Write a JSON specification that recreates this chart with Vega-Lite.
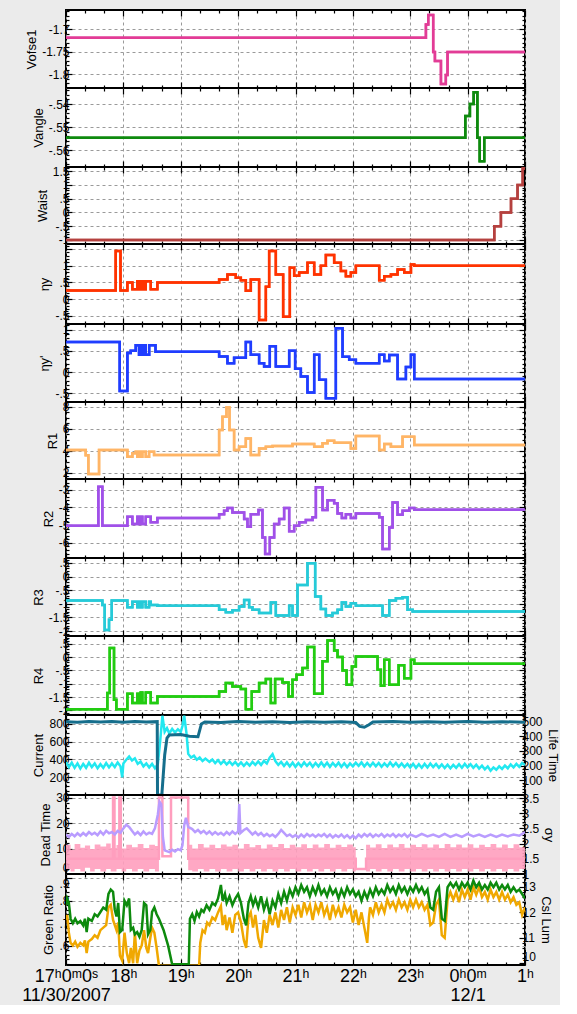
{
"$schema": "https://vega.github.io/schema/vega-lite/v6.json",
"background": "#EBEBEB",
"padding": {"left": 20, "top": 4, "right": 0, "bottom": 0},
"spacing": 0,
"bounds": "flush",
"config": {
 "view": {"stroke": "black", "strokeWidth": 2, "fill": "white"},
 "axis": {"domain": false, "tickColor": "black", "tickWidth": 1.2, "gridColor": "#9a9a9a", "gridDash": [3,3], "gridWidth": 1, "labelFont": "Liberation Sans", "labelFontSize": 12, "labelColor": "black", "titleFont": "Liberation Sans", "titleFontSize": 13, "titleFontWeight": "normal", "titleColor": "black", "labelOverlap": false, "labelFlush": false, "labelBound": false, "labelPadding": 3, "titlePadding": 3}
},
"datasets": {
 "p1": [{"t":17,"v":-1.7185},{"t":23.273,"v":-1.689},{"t":23.314,"v":-1.668},{"t":23.40,"v":-1.75},{"t":23.43,"v":-1.77},{"t":23.535,"v":-1.821},{"t":23.62,"v":-1.801},{"t":23.65,"v":-1.75},{"t":25,"v":-1.75}],
 "p2": [{"t":17,"v":-0.5547},{"t":23.96,"v":-0.5452},{"t":24.04,"v":-0.54},{"t":24.105,"v":-0.5349},{"t":24.17,"v":-0.5547},{"t":24.21,"v":-0.5649},{"t":24.29,"v":-0.5547},{"t":25,"v":-0.5547}],
 "p3": [{"t":17,"v":-1},{"t":24.465,"v":-0.5},{"t":24.58,"v":0},{"t":24.756,"v":0.5},{"t":24.87,"v":1},{"t":24.96,"v":1.6},{"t":25,"v":1.6}],
 "p4": [{"t":17,"v":0.26},{"t":17.866,"v":1.44},{"t":17.95,"v":0.26},{"t":18.07,"v":0.5},{"t":18.157,"v":0.3},{"t":18.244,"v":0.54},{"t":18.27,"v":0.3},{"t":18.29,"v":0.54},{"t":18.31,"v":0.3},{"t":18.33,"v":0.54},{"t":18.36,"v":0.3},{"t":18.39,"v":0.54},{"t":18.477,"v":0.3},{"t":18.593,"v":0.5},{"t":19.669,"v":0.59},{"t":19.814,"v":0.74},{"t":19.959,"v":0.64},{"t":20.047,"v":0.57},{"t":20.134,"v":0.25},{"t":20.221,"v":0.59},{"t":20.366,"v":-0.62},{"t":20.483,"v":0.37},{"t":20.541,"v":1.44},{"t":20.657,"v":0.74},{"t":20.785,"v":-0.52},{"t":20.901,"v":0.94},{"t":20.977,"v":0.7},{"t":21.064,"v":0.8},{"t":21.209,"v":1.09},{"t":21.326,"v":0.74},{"t":21.442,"v":1.0},{"t":21.529,"v":1.32},{"t":21.674,"v":1.09},{"t":21.791,"v":0.84},{"t":21.878,"v":0.69},{"t":21.965,"v":0.8},{"t":22.052,"v":1.0},{"t":22.459,"v":0.57},{"t":22.547,"v":0.69},{"t":22.663,"v":0.74},{"t":22.779,"v":0.89},{"t":22.895,"v":0.8},{"t":23.012,"v":1.04},{"t":23.07,"v":1.0},{"t":25,"v":1.0}],
 "p5": [{"t":17,"v":0.71},{"t":17.936,"v":-0.44},{"t":18.07,"v":0.45},{"t":18.128,"v":0.5},{"t":18.215,"v":0.63},{"t":18.273,"v":0.41},{"t":18.30,"v":0.63},{"t":18.33,"v":0.41},{"t":18.36,"v":0.63},{"t":18.39,"v":0.41},{"t":18.45,"v":0.63},{"t":18.56,"v":0.48},{"t":19.669,"v":0.37},{"t":19.814,"v":0.21},{"t":19.93,"v":0.34},{"t":20.134,"v":0.71},{"t":20.221,"v":0.41},{"t":20.366,"v":0.21},{"t":20.453,"v":0.13},{"t":20.552,"v":0.61},{"t":20.657,"v":0.13},{"t":20.89,"v":0.5},{"t":20.994,"v":0.08},{"t":21.093,"v":-0.1},{"t":21.209,"v":-0.48},{"t":21.326,"v":0.41},{"t":21.413,"v":-0.18},{"t":21.529,"v":-0.61},{"t":21.703,"v":1.03},{"t":21.82,"v":0.36},{"t":21.936,"v":0.29},{"t":22.052,"v":0.21},{"t":22.459,"v":0.41},{"t":22.547,"v":0.26},{"t":22.634,"v":0.4},{"t":22.779,"v":-0.16},{"t":22.924,"v":0.12},{"t":23.012,"v":0.41},{"t":23.07,"v":-0.16},{"t":25,"v":-0.16}],
 "p6": [{"t":17,"v":4.06},{"t":17.343,"v":3.6},{"t":17.39,"v":1.88},{"t":17.576,"v":4.06},{"t":18.07,"v":3.45},{"t":18.157,"v":3.76},{"t":18.215,"v":3.91},{"t":18.244,"v":3.45},{"t":18.273,"v":3.91},{"t":18.302,"v":3.45},{"t":18.331,"v":3.91},{"t":18.39,"v":3.45},{"t":18.448,"v":3.91},{"t":18.535,"v":3.61},{"t":19.669,"v":5.88},{"t":19.727,"v":7.09},{"t":19.797,"v":7.94},{"t":19.85,"v":5.88},{"t":19.93,"v":4.06},{"t":20.017,"v":4.36},{"t":20.134,"v":5.12},{"t":20.221,"v":3.61},{"t":20.366,"v":4.21},{"t":20.483,"v":4.36},{"t":20.599,"v":4.42},{"t":20.948,"v":4.61},{"t":21.326,"v":4.36},{"t":21.471,"v":4.67},{"t":21.558,"v":4.91},{"t":21.674,"v":4.73},{"t":21.965,"v":4.21},{"t":22.052,"v":5.33},{"t":22.459,"v":4.06},{"t":22.547,"v":4.61},{"t":22.663,"v":4.36},{"t":22.866,"v":5.27},{"t":23.07,"v":4.52},{"t":25,"v":4.52}],
 "p7": [{"t":17,"v":-5.03},{"t":17.564,"v":-2.84},{"t":17.634,"v":-5.03},{"t":18.07,"v":-4.53},{"t":18.157,"v":-4.94},{"t":18.244,"v":-4.53},{"t":18.273,"v":-4.94},{"t":18.302,"v":-4.53},{"t":18.331,"v":-4.94},{"t":18.39,"v":-4.53},{"t":18.477,"v":-4.84},{"t":18.593,"v":-4.6},{"t":19.669,"v":-4.38},{"t":19.756,"v":-4.19},{"t":19.814,"v":-4.04},{"t":19.901,"v":-4.28},{"t":20.105,"v":-4.66},{"t":20.163,"v":-5.09},{"t":20.221,"v":-4.38},{"t":20.355,"v":-4.15},{"t":20.424,"v":-5.69},{"t":20.471,"v":-6.63},{"t":20.552,"v":-5.69},{"t":20.628,"v":-4.94},{"t":20.715,"v":-4.66},{"t":20.802,"v":-4.04},{"t":20.89,"v":-5.35},{"t":20.977,"v":-5.03},{"t":21.064,"v":-4.84},{"t":21.18,"v":-4.71},{"t":21.297,"v":-4.56},{"t":21.355,"v":-2.87},{"t":21.471,"v":-4.15},{"t":21.558,"v":-3.59},{"t":21.674,"v":-3.77},{"t":21.733,"v":-4.34},{"t":21.808,"v":-4.6},{"t":21.878,"v":-4.38},{"t":21.965,"v":-4.6},{"t":22.052,"v":-4.34},{"t":22.459,"v":-4.56},{"t":22.517,"v":-6.35},{"t":22.634,"v":-5.13},{"t":22.692,"v":-3.72},{"t":22.779,"v":-4.41},{"t":22.866,"v":-4.19},{"t":22.983,"v":-4.04},{"t":23.07,"v":-4.13},{"t":25,"v":-4.13}],
 "p8": [{"t":17,"v":-0.88},{"t":17.634,"v":-1.04},{"t":17.674,"v":-1.96},{"t":17.75,"v":-1.58},{"t":17.797,"v":-0.88},{"t":18.07,"v":-1.13},{"t":18.157,"v":-0.92},{"t":18.244,"v":-1.13},{"t":18.273,"v":-0.92},{"t":18.302,"v":-1.13},{"t":18.331,"v":-0.92},{"t":18.39,"v":-1.13},{"t":18.448,"v":-0.92},{"t":18.477,"v":-1.04},{"t":18.593,"v":-1.07},{"t":19.669,"v":-1.22},{"t":19.785,"v":-1.31},{"t":19.901,"v":-1.24},{"t":20.017,"v":-1.1},{"t":20.105,"v":-0.86},{"t":20.192,"v":-1.13},{"t":20.25,"v":-1.22},{"t":20.366,"v":-1.34},{"t":20.57,"v":-0.95},{"t":20.657,"v":-1.43},{"t":20.89,"v":-1.07},{"t":20.948,"v":-1.43},{"t":21.035,"v":-0.31},{"t":21.209,"v":0.49},{"t":21.343,"v":-0.73},{"t":21.442,"v":-1.19},{"t":21.529,"v":-1.43},{"t":21.645,"v":-1.34},{"t":21.733,"v":-1.22},{"t":21.808,"v":-0.95},{"t":21.878,"v":-1.1},{"t":21.965,"v":-0.98},{"t":22.052,"v":-1.07},{"t":22.517,"v":-1.43},{"t":22.634,"v":-0.88},{"t":22.75,"v":-0.8},{"t":22.866,"v":-0.76},{"t":22.953,"v":-1.22},{"t":23.041,"v":-1.28},{"t":25,"v":-1.28}],
 "p9": [{"t":17,"v":-1.95},{"t":17.721,"v":-1.35},{"t":17.762,"v":0.34},{"t":17.837,"v":-1.6},{"t":17.878,"v":-1.95},{"t":18.07,"v":-1.375},{"t":18.157,"v":-1.725},{"t":18.244,"v":-1.375},{"t":18.273,"v":-1.725},{"t":18.302,"v":-1.325},{"t":18.331,"v":-1.725},{"t":18.39,"v":-1.325},{"t":18.477,"v":-1.725},{"t":18.593,"v":-1.475},{"t":19.669,"v":-1.29},{"t":19.785,"v":-0.975},{"t":19.901,"v":-1.1},{"t":20.047,"v":-1.2},{"t":20.134,"v":-1.95},{"t":20.238,"v":-1.29},{"t":20.366,"v":-0.975},{"t":20.483,"v":-0.825},{"t":20.57,"v":-1.725},{"t":20.645,"v":-0.825},{"t":20.773,"v":-0.95},{"t":20.878,"v":-1.475},{"t":20.948,"v":-0.85},{"t":21.017,"v":-0.66},{"t":21.122,"v":-0.41},{"t":21.209,"v":0.375},{"t":21.326,"v":-1.375},{"t":21.471,"v":-0.16},{"t":21.558,"v":0.625},{"t":21.674,"v":0.25},{"t":21.733,"v":0},{"t":21.82,"v":-0.5},{"t":21.89,"v":-1.04},{"t":21.983,"v":-0.35},{"t":22.052,"v":0.025},{"t":22.43,"v":-0.475},{"t":22.488,"v":-1.075},{"t":22.547,"v":-0.1},{"t":22.634,"v":-1.04},{"t":22.797,"v":-0.31},{"t":22.895,"v":-0.79},{"t":23.012,"v":-0.1},{"t":23.07,"v":-0.25},{"t":25,"v":-0.25}],
 "p10a": [{"t":17,"v":825},{"t":17.2,"v":818},{"t":17.4,"v":828},{"t":17.6,"v":820},{"t":17.8,"v":827},{"t":18.0,"v":819},{"t":18.2,"v":826},{"t":18.4,"v":820},{"t":18.59,"v":825},{"t":18.595,"v":0},{"t":18.67,"v":0},{"t":18.72,"v":450},{"t":18.76,"v":640},{"t":18.8,"v":675},{"t":19.0,"v":680},{"t":19.15,"v":662},{"t":19.3,"v":655},{"t":19.36,"v":800},{"t":19.42,"v":822},{"t":19.7,"v":816},{"t":20.0,"v":826},{"t":20.3,"v":818},{"t":20.6,"v":825},{"t":20.9,"v":817},{"t":21.2,"v":825},{"t":21.5,"v":819},{"t":21.8,"v":824},{"t":22.05,"v":815},{"t":22.12,"v":772},{"t":22.2,"v":762},{"t":22.28,"v":790},{"t":22.35,"v":822},{"t":22.7,"v":826},{"t":23.0,"v":818},{"t":23.3,"v":825},{"t":23.6,"v":819},{"t":24.0,"v":826},{"t":24.3,"v":818},{"t":24.6,"v":825},{"t":25,"v":818}],
 "p10b": [{"t":17.0,"v":225},{"t":17.05,"v":190},{"t":17.1,"v":220},{"t":17.15,"v":185},{"t":17.2,"v":215},{"t":17.25,"v":180},{"t":17.3,"v":212},{"t":17.35,"v":185},{"t":17.4,"v":220},{"t":17.45,"v":190},{"t":17.5,"v":215},{"t":17.55,"v":182},{"t":17.6,"v":210},{"t":17.65,"v":185},{"t":17.7,"v":218},{"t":17.75,"v":188},{"t":17.8,"v":215},{"t":17.85,"v":190},{"t":17.9,"v":222},{"t":17.95,"v":195},{"t":17.98,"v":120},{"t":18.0,"v":215},{"t":18.05,"v":240},{"t":18.1,"v":262},{"t":18.15,"v":235},{"t":18.2,"v":250},{"t":18.25,"v":212},{"t":18.3,"v":228},{"t":18.35,"v":195},{"t":18.4,"v":215},{"t":18.45,"v":188},{"t":18.5,"v":212},{"t":18.55,"v":182},{"t":18.6,"v":210},{"t":18.64,"v":360},{"t":18.68,"v":540},{"t":18.72,"v":430},{"t":18.76,"v":455},{"t":18.8,"v":420},{"t":18.85,"v":450},{"t":18.9,"v":425},{"t":18.95,"v":448},{"t":19.0,"v":430},{"t":19.03,"v":470},{"t":19.06,"v":540},{"t":19.1,"v":420},{"t":19.13,"v":280},{"t":19.18,"v":255},{"t":19.23,"v":268},{"t":19.28,"v":240},{"t":19.33,"v":255},{"t":19.38,"v":232},{"t":19.43,"v":248},{"t":19.5,"v":225},{"t":19.55,"v":242},{"t":19.6,"v":218},{"t":19.65,"v":238},{"t":19.7,"v":212},{"t":19.75,"v":232},{"t":19.8,"v":208},{"t":19.85,"v":228},{"t":19.9,"v":205},{"t":19.95,"v":225},{"t":20.0,"v":200},{"t":20.05,"v":222},{"t":20.1,"v":198},{"t":20.15,"v":220},{"t":20.2,"v":200},{"t":20.25,"v":225},{"t":20.3,"v":205},{"t":20.35,"v":228},{"t":20.4,"v":205},{"t":20.45,"v":232},{"t":20.5,"v":215},{"t":20.55,"v":255},{"t":20.6,"v":278},{"t":20.65,"v":230},{"t":20.7,"v":205},{"t":20.75,"v":225},{"t":20.8,"v":198},{"t":20.85,"v":222},{"t":20.9,"v":195},{"t":20.95,"v":220},{"t":21.0,"v":192},{"t":21.05,"v":218},{"t":21.1,"v":195},{"t":21.15,"v":222},{"t":21.2,"v":198},{"t":21.25,"v":220},{"t":21.3,"v":192},{"t":21.35,"v":218},{"t":21.4,"v":195},{"t":21.45,"v":222},{"t":21.5,"v":195},{"t":21.55,"v":220},{"t":21.6,"v":192},{"t":21.65,"v":218},{"t":21.7,"v":195},{"t":21.75,"v":220},{"t":21.8,"v":192},{"t":21.85,"v":216},{"t":21.9,"v":190},{"t":21.95,"v":215},{"t":22.0,"v":195},{"t":22.05,"v":220},{"t":22.1,"v":198},{"t":22.15,"v":222},{"t":22.2,"v":195},{"t":22.25,"v":218},{"t":22.3,"v":196},{"t":22.35,"v":220},{"t":22.4,"v":195},{"t":22.45,"v":218},{"t":22.5,"v":192},{"t":22.55,"v":215},{"t":22.6,"v":195},{"t":22.65,"v":222},{"t":22.7,"v":196},{"t":22.75,"v":218},{"t":22.8,"v":192},{"t":22.85,"v":215},{"t":22.9,"v":190},{"t":22.95,"v":212},{"t":23.0,"v":188},{"t":23.05,"v":212},{"t":23.1,"v":185},{"t":23.15,"v":210},{"t":23.2,"v":186},{"t":23.25,"v":212},{"t":23.3,"v":188},{"t":23.35,"v":214},{"t":23.4,"v":190},{"t":23.45,"v":212},{"t":23.5,"v":186},{"t":23.55,"v":208},{"t":23.6,"v":184},{"t":23.65,"v":206},{"t":23.7,"v":182},{"t":23.75,"v":205},{"t":23.8,"v":185},{"t":23.85,"v":210},{"t":23.9,"v":186},{"t":23.95,"v":212},{"t":24.0,"v":188},{"t":24.05,"v":210},{"t":24.1,"v":185},{"t":24.15,"v":206},{"t":24.2,"v":180},{"t":24.25,"v":200},{"t":24.3,"v":175},{"t":24.35,"v":195},{"t":24.4,"v":165},{"t":24.45,"v":188},{"t":24.5,"v":172},{"t":24.55,"v":195},{"t":24.6,"v":178},{"t":24.65,"v":200},{"t":24.7,"v":182},{"t":24.75,"v":208},{"t":24.8,"v":188},{"t":24.85,"v":212},{"t":24.9,"v":192},{"t":24.95,"v":218},{"t":25.0,"v":205}],
 "p11band": [{"t":17.0,"lo":2,"hi":11.5},{"t":17.08,"lo":1,"hi":9.5},{"t":17.15,"lo":2,"hi":11.8},{"t":17.25,"lo":1,"hi":10.3},{"t":17.33,"lo":2.5,"hi":11.2},{"t":17.42,"lo":1,"hi":9.8},{"t":17.5,"lo":2,"hi":11.6},{"t":17.6,"lo":1,"hi":10.8},{"t":17.7,"lo":2,"hi":12},{"t":17.78,"lo":1,"hi":10.2},{"t":17.88,"lo":2,"hi":11.4},{"t":17.97,"lo":1,"hi":10},{"t":18.05,"lo":2,"hi":11.5},{"t":18.15,"lo":1,"hi":10.5},{"t":18.25,"lo":2,"hi":11.8},{"t":18.35,"lo":1,"hi":10.2},{"t":18.45,"lo":2,"hi":11.5},{"t":18.55,"lo":1,"hi":11},{"t":18.62,"lo":7,"hi":7},{"t":19.13,"lo":1.5,"hi":11.5},{"t":19.2,"lo":1,"hi":10},{"t":19.3,"lo":2,"hi":11.8},{"t":19.4,"lo":1,"hi":10.4},{"t":19.5,"lo":2,"hi":11.5},{"t":19.6,"lo":1,"hi":10.2},{"t":19.7,"lo":2,"hi":11.6},{"t":19.8,"lo":1,"hi":10.8},{"t":19.9,"lo":2,"hi":11.5},{"t":20.0,"lo":1,"hi":10},{"t":20.1,"lo":2,"hi":11.8},{"t":20.2,"lo":1,"hi":10.5},{"t":20.3,"lo":2,"hi":11.4},{"t":20.4,"lo":1,"hi":10},{"t":20.5,"lo":2,"hi":11.6},{"t":20.6,"lo":1,"hi":10.6},{"t":20.7,"lo":2,"hi":11.8},{"t":20.8,"lo":1,"hi":10.2},{"t":20.9,"lo":2,"hi":11.5},{"t":21.0,"lo":1,"hi":10.5},{"t":21.1,"lo":2,"hi":11.7},{"t":21.2,"lo":1,"hi":10.2},{"t":21.3,"lo":2,"hi":11.6},{"t":21.4,"lo":1,"hi":10.4},{"t":21.5,"lo":2,"hi":11.8},{"t":21.6,"lo":1,"hi":10.3},{"t":21.7,"lo":2,"hi":11.5},{"t":21.8,"lo":1,"hi":10.6},{"t":21.9,"lo":2,"hi":11.6},{"t":22.0,"lo":1,"hi":10.5},{"t":22.05,"lo":2,"hi":2},{"t":22.23,"lo":1,"hi":11.5},{"t":22.3,"lo":2,"hi":10.4},{"t":22.4,"lo":1,"hi":11.7},{"t":22.5,"lo":2,"hi":10.2},{"t":22.6,"lo":1,"hi":11.6},{"t":22.7,"lo":2,"hi":10.5},{"t":22.8,"lo":1,"hi":11.8},{"t":22.9,"lo":2,"hi":10.3},{"t":23.0,"lo":1,"hi":11.5},{"t":23.1,"lo":2,"hi":10.6},{"t":23.2,"lo":1,"hi":11.7},{"t":23.3,"lo":2,"hi":10.4},{"t":23.4,"lo":1,"hi":11.6},{"t":23.5,"lo":2,"hi":10.2},{"t":23.6,"lo":1,"hi":11.8},{"t":23.7,"lo":2,"hi":10.5},{"t":23.8,"lo":1,"hi":11.6},{"t":23.9,"lo":2,"hi":10.4},{"t":24.0,"lo":1,"hi":11.7},{"t":24.1,"lo":2,"hi":10.3},{"t":24.2,"lo":1,"hi":11.5},{"t":24.3,"lo":2,"hi":10.6},{"t":24.4,"lo":1,"hi":11.8},{"t":24.5,"lo":2,"hi":10.4},{"t":24.6,"lo":1,"hi":11.6},{"t":24.7,"lo":2,"hi":10.2},{"t":24.8,"lo":1,"hi":11.7},{"t":24.9,"lo":2,"hi":10.5},{"t":25.0,"lo":2,"hi":10.5}],
 "p11line": [{"t":17.0,"v":6},{"t":17.82,"v":30},{"t":17.845,"v":6},{"t":17.93,"v":30},{"t":17.955,"v":6},{"t":18.62,"v":30},{"t":18.68,"v":7},{"t":18.83,"v":30},{"t":19.13,"v":6},{"t":22.05,"v":2},{"t":22.23,"v":6},{"t":25,"v":6}],
 "p11b": [{"t":17.0,"v":2.3},{"t":17.05,"v":2.22},{"t":17.1,"v":2.32},{"t":17.15,"v":2.24},{"t":17.2,"v":2.34},{"t":17.25,"v":2.26},{"t":17.3,"v":2.35},{"t":17.35,"v":2.27},{"t":17.4,"v":2.38},{"t":17.45,"v":2.3},{"t":17.5,"v":2.36},{"t":17.55,"v":2.28},{"t":17.6,"v":2.4},{"t":17.65,"v":2.3},{"t":17.7,"v":2.42},{"t":17.75,"v":2.34},{"t":17.8,"v":2.38},{"t":17.85,"v":2.3},{"t":17.9,"v":2.42},{"t":17.95,"v":2.36},{"t":18.0,"v":2.5},{"t":18.05,"v":2.62},{"t":18.1,"v":2.55},{"t":18.15,"v":2.42},{"t":18.2,"v":2.3},{"t":18.25,"v":2.38},{"t":18.3,"v":2.28},{"t":18.35,"v":2.4},{"t":18.4,"v":2.3},{"t":18.45,"v":2.36},{"t":18.5,"v":2.32},{"t":18.55,"v":2.5},{"t":18.6,"v":2.95},{"t":18.63,"v":3.38},{"t":18.66,"v":3.3},{"t":18.69,"v":2.2},{"t":18.72,"v":1.78},{"t":18.8,"v":1.72},{"t":18.85,"v":1.8},{"t":18.9,"v":1.74},{"t":18.95,"v":1.82},{"t":19.0,"v":1.78},{"t":19.03,"v":1.95},{"t":19.06,"v":2.6},{"t":19.09,"v":2.85},{"t":19.13,"v":2.55},{"t":19.2,"v":2.48},{"t":19.25,"v":2.38},{"t":19.3,"v":2.45},{"t":19.35,"v":2.35},{"t":19.4,"v":2.42},{"t":19.45,"v":2.32},{"t":19.5,"v":2.4},{"t":19.55,"v":2.3},{"t":19.6,"v":2.38},{"t":19.65,"v":2.3},{"t":19.7,"v":2.36},{"t":19.75,"v":2.28},{"t":19.8,"v":2.38},{"t":19.85,"v":2.3},{"t":19.9,"v":2.4},{"t":19.95,"v":2.32},{"t":20.0,"v":2.4},{"t":20.02,"v":3.3},{"t":20.04,"v":2.35},{"t":20.1,"v":2.45},{"t":20.15,"v":2.5},{"t":20.2,"v":2.4},{"t":20.25,"v":2.3},{"t":20.3,"v":2.38},{"t":20.35,"v":2.28},{"t":20.4,"v":2.35},{"t":20.45,"v":2.25},{"t":20.5,"v":2.32},{"t":20.55,"v":2.24},{"t":20.6,"v":2.3},{"t":20.65,"v":2.22},{"t":20.7,"v":2.32},{"t":20.75,"v":2.45},{"t":20.8,"v":2.35},{"t":20.85,"v":2.25},{"t":20.9,"v":2.3},{"t":20.95,"v":2.22},{"t":21.0,"v":2.28},{"t":21.05,"v":2.2},{"t":21.1,"v":2.3},{"t":21.15,"v":2.22},{"t":21.2,"v":2.32},{"t":21.25,"v":2.24},{"t":21.3,"v":2.3},{"t":21.35,"v":2.22},{"t":21.4,"v":2.3},{"t":21.45,"v":2.24},{"t":21.5,"v":2.32},{"t":21.55,"v":2.22},{"t":21.6,"v":2.3},{"t":21.65,"v":2.2},{"t":21.7,"v":2.28},{"t":21.75,"v":2.22},{"t":21.8,"v":2.3},{"t":21.85,"v":2.2},{"t":21.9,"v":2.28},{"t":21.95,"v":2.18},{"t":22.0,"v":2.26},{"t":22.05,"v":2.18},{"t":22.1,"v":2.3},{"t":22.15,"v":2.22},{"t":22.2,"v":2.32},{"t":22.25,"v":2.24},{"t":22.3,"v":2.32},{"t":22.35,"v":2.22},{"t":22.4,"v":2.3},{"t":22.45,"v":2.24},{"t":22.5,"v":2.32},{"t":22.55,"v":2.22},{"t":22.6,"v":2.3},{"t":22.65,"v":2.24},{"t":22.7,"v":2.32},{"t":22.75,"v":2.22},{"t":22.8,"v":2.3},{"t":22.85,"v":2.24},{"t":22.9,"v":2.32},{"t":22.95,"v":2.22},{"t":23.0,"v":2.3},{"t":23.1,"v":2.22},{"t":23.2,"v":2.32},{"t":23.3,"v":2.24},{"t":23.4,"v":2.3},{"t":23.5,"v":2.22},{"t":23.6,"v":2.32},{"t":23.7,"v":2.22},{"t":23.8,"v":2.3},{"t":23.9,"v":2.22},{"t":24.0,"v":2.32},{"t":24.1,"v":2.24},{"t":24.2,"v":2.3},{"t":24.3,"v":2.22},{"t":24.4,"v":2.3},{"t":24.5,"v":2.22},{"t":24.6,"v":2.3},{"t":24.7,"v":2.24},{"t":24.8,"v":2.3},{"t":24.9,"v":2.26},{"t":25.0,"v":2.38}],
 "p12a": [{"t":17.0,"v":0.78},{"t":17.02,"v":0.81},{"t":17.05,"v":0.79},{"t":17.08,"v":0.72},{"t":17.12,"v":0.7},{"t":17.16,"v":0.72},{"t":17.2,"v":0.7},{"t":17.25,"v":0.71},{"t":17.3,"v":0.69},{"t":17.33,"v":0.72},{"t":17.36,"v":0.66},{"t":17.39,"v":0.72},{"t":17.45,"v":0.71},{"t":17.5,"v":0.74},{"t":17.55,"v":0.73},{"t":17.6,"v":0.75},{"t":17.65,"v":0.77},{"t":17.7,"v":0.76},{"t":17.74,"v":0.83},{"t":17.78,"v":0.85},{"t":17.82,"v":0.84},{"t":17.85,"v":0.76},{"t":17.88,"v":0.73},{"t":17.91,"v":0.79},{"t":17.94,"v":0.66},{"t":17.98,"v":0.67},{"t":18.02,"v":0.8},{"t":18.06,"v":0.78},{"t":18.1,"v":0.81},{"t":18.13,"v":0.67},{"t":18.17,"v":0.68},{"t":18.2,"v":0.65},{"t":18.24,"v":0.66},{"t":18.28,"v":0.64},{"t":18.32,"v":0.67},{"t":18.36,"v":0.79},{"t":18.4,"v":0.78},{"t":18.43,"v":0.65},{"t":18.47,"v":0.67},{"t":18.5,"v":0.75},{"t":18.54,"v":0.77},{"t":18.58,"v":0.74},{"t":18.62,"v":0.72},{"t":18.7,"v":0.67},{"t":18.78,"v":0.6},{"t":18.85,"v":0.517},{"t":19.14,"v":0.517},{"t":19.16,"v":0.72},{"t":19.2,"v":0.74},{"t":19.24,"v":0.71},{"t":19.28,"v":0.75},{"t":19.32,"v":0.73},{"t":19.36,"v":0.76},{"t":19.4,"v":0.75},{"t":19.45,"v":0.78},{"t":19.5,"v":0.76},{"t":19.55,"v":0.79},{"t":19.6,"v":0.78},{"t":19.65,"v":0.81},{"t":19.7,"v":0.87},{"t":19.73,"v":0.8},{"t":19.77,"v":0.83},{"t":19.8,"v":0.79},{"t":19.85,"v":0.82},{"t":19.9,"v":0.78},{"t":19.95,"v":0.81},{"t":20.0,"v":0.83},{"t":20.05,"v":0.79},{"t":20.1,"v":0.72},{"t":20.14,"v":0.69},{"t":20.18,"v":0.79},{"t":20.22,"v":0.82},{"t":20.26,"v":0.78},{"t":20.3,"v":0.81},{"t":20.35,"v":0.77},{"t":20.4,"v":0.82},{"t":20.45,"v":0.76},{"t":20.5,"v":0.8},{"t":20.55,"v":0.74},{"t":20.6,"v":0.8},{"t":20.65,"v":0.77},{"t":20.7,"v":0.83},{"t":20.75,"v":0.79},{"t":20.8,"v":0.84},{"t":20.85,"v":0.8},{"t":20.9,"v":0.85},{"t":20.95,"v":0.82},{"t":21.0,"v":0.86},{"t":21.05,"v":0.83},{"t":21.1,"v":0.87},{"t":21.15,"v":0.84},{"t":21.2,"v":0.86},{"t":21.25,"v":0.82},{"t":21.3,"v":0.86},{"t":21.35,"v":0.83},{"t":21.4,"v":0.87},{"t":21.45,"v":0.83},{"t":21.5,"v":0.85},{"t":21.55,"v":0.82},{"t":21.6,"v":0.86},{"t":21.65,"v":0.83},{"t":21.7,"v":0.85},{"t":21.75,"v":0.81},{"t":21.8,"v":0.85},{"t":21.85,"v":0.82},{"t":21.9,"v":0.86},{"t":21.95,"v":0.83},{"t":22.0,"v":0.85},{"t":22.05,"v":0.82},{"t":22.1,"v":0.84},{"t":22.15,"v":0.8},{"t":22.2,"v":0.84},{"t":22.25,"v":0.81},{"t":22.3,"v":0.85},{"t":22.35,"v":0.82},{"t":22.4,"v":0.86},{"t":22.45,"v":0.83},{"t":22.5,"v":0.85},{"t":22.55,"v":0.83},{"t":22.6,"v":0.87},{"t":22.65,"v":0.84},{"t":22.7,"v":0.86},{"t":22.75,"v":0.83},{"t":22.8,"v":0.87},{"t":22.85,"v":0.84},{"t":22.9,"v":0.86},{"t":22.95,"v":0.83},{"t":23.0,"v":0.86},{"t":23.05,"v":0.84},{"t":23.1,"v":0.87},{"t":23.15,"v":0.84},{"t":23.2,"v":0.86},{"t":23.25,"v":0.83},{"t":23.3,"v":0.85},{"t":23.35,"v":0.77},{"t":23.4,"v":0.76},{"t":23.45,"v":0.84},{"t":23.5,"v":0.86},{"t":23.55,"v":0.72},{"t":23.6,"v":0.71},{"t":23.65,"v":0.86},{"t":23.7,"v":0.88},{"t":23.75,"v":0.86},{"t":23.8,"v":0.88},{"t":23.85,"v":0.85},{"t":23.9,"v":0.88},{"t":23.95,"v":0.86},{"t":24.0,"v":0.88},{"t":24.05,"v":0.85},{"t":24.1,"v":0.89},{"t":24.15,"v":0.86},{"t":24.2,"v":0.88},{"t":24.25,"v":0.85},{"t":24.3,"v":0.87},{"t":24.35,"v":0.85},{"t":24.4,"v":0.88},{"t":24.45,"v":0.86},{"t":24.5,"v":0.88},{"t":24.55,"v":0.85},{"t":24.6,"v":0.87},{"t":24.65,"v":0.85},{"t":24.7,"v":0.87},{"t":24.75,"v":0.84},{"t":24.8,"v":0.86},{"t":24.85,"v":0.84},{"t":24.9,"v":0.85},{"t":24.95,"v":0.83},{"t":25.0,"v":0.81}],
 "p12b": [{"t":17.0,"v":11.7},{"t":17.02,"v":11.9},{"t":17.05,"v":11.2},{"t":17.08,"v":10.8},{"t":17.12,"v":10.7},{"t":17.16,"v":10.85},{"t":17.2,"v":10.65},{"t":17.25,"v":10.8},{"t":17.3,"v":10.7},{"t":17.33,"v":10.9},{"t":17.36,"v":10.4},{"t":17.39,"v":10.85},{"t":17.45,"v":10.95},{"t":17.5,"v":11.1},{"t":17.55,"v":11.0},{"t":17.6,"v":11.3},{"t":17.65,"v":11.4},{"t":17.7,"v":11.5},{"t":17.74,"v":12.2},{"t":17.78,"v":12.3},{"t":17.82,"v":11.7},{"t":17.85,"v":11.5},{"t":17.88,"v":11.3},{"t":17.91,"v":11.6},{"t":17.94,"v":10.3},{"t":17.98,"v":10.1},{"t":18.02,"v":11.2},{"t":18.06,"v":10.4},{"t":18.1,"v":10.0},{"t":18.13,"v":10.6},{"t":18.17,"v":10.0},{"t":18.2,"v":11.2},{"t":18.24,"v":10.0},{"t":18.28,"v":10.5},{"t":18.32,"v":10.7},{"t":18.36,"v":11.3},{"t":18.4,"v":10.6},{"t":18.43,"v":10.4},{"t":18.47,"v":11.0},{"t":18.5,"v":11.4},{"t":18.54,"v":11.2},{"t":18.58,"v":10.6},{"t":18.62,"v":9.9},{"t":19.32,"v":9.9},{"t":19.34,"v":10.8},{"t":19.38,"v":11.3},{"t":19.42,"v":11.2},{"t":19.46,"v":11.6},{"t":19.5,"v":11.5},{"t":19.55,"v":11.8},{"t":19.6,"v":11.7},{"t":19.65,"v":12.0},{"t":19.7,"v":12.25},{"t":19.73,"v":11.5},{"t":19.77,"v":11.9},{"t":19.8,"v":11.3},{"t":19.85,"v":11.8},{"t":19.9,"v":11.2},{"t":19.95,"v":11.9},{"t":20.0,"v":12.0},{"t":20.05,"v":11.6},{"t":20.1,"v":10.9},{"t":20.14,"v":10.6},{"t":20.18,"v":11.8},{"t":20.22,"v":12.0},{"t":20.26,"v":11.4},{"t":20.3,"v":11.9},{"t":20.35,"v":11.0},{"t":20.4,"v":10.6},{"t":20.45,"v":11.7},{"t":20.5,"v":11.2},{"t":20.55,"v":11.9},{"t":20.6,"v":11.5},{"t":20.65,"v":12.0},{"t":20.7,"v":11.4},{"t":20.75,"v":12.1},{"t":20.8,"v":11.7},{"t":20.85,"v":12.2},{"t":20.9,"v":11.6},{"t":20.95,"v":12.2},{"t":21.0,"v":11.9},{"t":21.05,"v":12.3},{"t":21.1,"v":11.8},{"t":21.15,"v":12.4},{"t":21.2,"v":12.0},{"t":21.25,"v":12.3},{"t":21.3,"v":11.7},{"t":21.35,"v":12.3},{"t":21.4,"v":12.0},{"t":21.45,"v":12.4},{"t":21.5,"v":11.9},{"t":21.55,"v":12.2},{"t":21.6,"v":11.7},{"t":21.65,"v":12.3},{"t":21.7,"v":11.9},{"t":21.75,"v":12.2},{"t":21.8,"v":11.8},{"t":21.85,"v":12.3},{"t":21.9,"v":12.0},{"t":21.95,"v":12.2},{"t":22.0,"v":11.6},{"t":22.05,"v":12.1},{"t":22.1,"v":11.5},{"t":22.15,"v":12.0},{"t":22.2,"v":11.4},{"t":22.25,"v":10.8},{"t":22.28,"v":11.8},{"t":22.3,"v":12.2},{"t":22.35,"v":11.9},{"t":22.4,"v":12.4},{"t":22.45,"v":12.0},{"t":22.5,"v":12.3},{"t":22.55,"v":12.0},{"t":22.6,"v":12.5},{"t":22.65,"v":12.2},{"t":22.7,"v":12.4},{"t":22.75,"v":12.1},{"t":22.8,"v":12.5},{"t":22.85,"v":12.2},{"t":22.9,"v":12.4},{"t":22.95,"v":12.1},{"t":23.0,"v":12.5},{"t":23.05,"v":12.2},{"t":23.1,"v":12.5},{"t":23.15,"v":12.2},{"t":23.2,"v":12.4},{"t":23.25,"v":12.1},{"t":23.3,"v":12.3},{"t":23.35,"v":11.5},{"t":23.4,"v":11.6},{"t":23.45,"v":12.3},{"t":23.5,"v":12.5},{"t":23.55,"v":11.1},{"t":23.6,"v":11.0},{"t":23.65,"v":12.5},{"t":23.7,"v":12.8},{"t":23.75,"v":12.5},{"t":23.8,"v":12.8},{"t":23.85,"v":12.4},{"t":23.9,"v":12.9},{"t":23.95,"v":12.6},{"t":24.0,"v":12.9},{"t":24.05,"v":12.5},{"t":24.1,"v":13.0},{"t":24.15,"v":12.7},{"t":24.2,"v":13.0},{"t":24.25,"v":12.6},{"t":24.3,"v":12.8},{"t":24.35,"v":12.5},{"t":24.4,"v":12.9},{"t":24.45,"v":12.6},{"t":24.5,"v":12.8},{"t":24.55,"v":12.5},{"t":24.6,"v":12.8},{"t":24.65,"v":12.5},{"t":24.7,"v":12.7},{"t":24.75,"v":12.4},{"t":24.8,"v":12.6},{"t":24.85,"v":12.3},{"t":24.9,"v":12.4},{"t":24.95,"v":11.9},{"t":25.0,"v":12.2}]
},
"vconcat": [
 {"width": 459, "height": 78, "data": {"name": "p1"},
  "layer": [
   {"mark": {"type": "line", "interpolate": "step-after", "color": "#E23C96", "strokeWidth": 2.5, "clip": true},
    "encoding": {
     "x": {"field": "t", "type": "quantitative", "scale": {"domain": [17, 25], "nice": false, "zero": false}, "axis": {"orient": "bottom", "values": [17,17.33333,17.66667,18,18.33333,18.66667,19,19.33333,19.66667,20,20.33333,20.66667,21,21.33333,21.66667,22,22.33333,22.66667,23,23.33333,23.66667,24,24.33333,24.66667,25], "labels": false, "title": null, "grid": true, "gridOpacity": {"condition": {"test": "abs(datum.value-round(datum.value))<0.01", "value": 1}, "value": 0}, "tickSize": {"condition": {"test": "abs(datum.value-round(datum.value))<0.01", "value": -6}, "value": -3}}},
     "y": {"field": "v", "type": "quantitative", "scale": {"domain": [-1.83, -1.657], "nice": false, "zero": false}, "axis": {"orient": "left", "title": "Vofse1", "values": [-1.83,-1.82,-1.81,-1.8,-1.79,-1.78,-1.77,-1.76,-1.75,-1.74,-1.73,-1.72,-1.71,-1.7,-1.69,-1.68,-1.67,-1.66], "labelExpr": "abs(datum.value*20-round(datum.value*20))<1e-6 ? (datum.value<0?'-':'')+replace(format(abs(datum.value),'~g'),'0.','.') : ''", "grid": true, "gridOpacity": {"condition": {"test": "abs(datum.value*20-round(datum.value*20))<1e-6", "value": 1}, "value": 0}, "tickSize": {"condition": {"test": "abs(datum.value*20-round(datum.value*20))<1e-6", "value": -6}, "value": -3}}}
    }},
   {"mark": {"type": "line", "interpolate": "step-after", "color": "#E23C96", "strokeWidth": 2.5, "clip": true},
    "encoding": {
     "x": {"field": "t", "type": "quantitative", "scale": {"domain": [17, 25], "nice": false, "zero": false}, "axis": {"orient": "top", "values": [17,17.33333,17.66667,18,18.33333,18.66667,19,19.33333,19.66667,20,20.33333,20.66667,21,21.33333,21.66667,22,22.33333,22.66667,23,23.33333,23.66667,24,24.33333,24.66667,25], "labels": false, "title": null, "grid": false, "tickSize": {"condition": {"test": "abs(datum.value-round(datum.value))<0.01", "value": -6}, "value": -3}}},
     "y": {"field": "v", "type": "quantitative", "scale": {"domain": [-1.83, -1.657], "nice": false, "zero": false}, "axis": {"orient": "right", "title": null, "labels": false, "grid": false, "values": [-1.83,-1.82,-1.81,-1.8,-1.79,-1.78,-1.77,-1.76,-1.75,-1.74,-1.73,-1.72,-1.71,-1.7,-1.69,-1.68,-1.67,-1.66], "tickSize": {"condition": {"test": "abs(datum.value*20-round(datum.value*20))<1e-6", "value": -6}, "value": -3}}}
    }}
  ],
  "resolve": {"axis": {"x": "independent", "y": "independent"}}
 },
 {"width": 459, "height": 79, "data": {"name": "p2"},
  "layer": [
   {"mark": {"type": "line", "interpolate": "step-after", "color": "#0E8A0E", "strokeWidth": 2.5, "clip": true},
    "encoding": {
     "x": {"field": "t", "type": "quantitative", "scale": {"domain": [17, 25], "nice": false, "zero": false}, "axis": {"orient": "bottom", "values": [17,17.33333,17.66667,18,18.33333,18.66667,19,19.33333,19.66667,20,20.33333,20.66667,21,21.33333,21.66667,22,22.33333,22.66667,23,23.33333,23.66667,24,24.33333,24.66667,25], "labels": false, "title": null, "grid": true, "gridOpacity": {"condition": {"test": "abs(datum.value-round(datum.value))<0.01", "value": 1}, "value": 0}, "tickSize": {"condition": {"test": "abs(datum.value-round(datum.value))<0.01", "value": -6}, "value": -3}}},
     "y": {"field": "v", "type": "quantitative", "scale": {"domain": [-0.5674, -0.533], "nice": false, "zero": false}, "axis": {"orient": "left", "title": "Vangle", "values": [-0.566,-0.564,-0.562,-0.56,-0.558,-0.556,-0.554,-0.552,-0.55,-0.548,-0.546,-0.544,-0.542,-0.54,-0.538,-0.536,-0.534], "labelExpr": "abs(datum.value*100-round(datum.value*100))<1e-6 ? (datum.value<0?'-':'')+replace(format(abs(datum.value),'~g'),'0.','.') : ''", "grid": true, "gridOpacity": {"condition": {"test": "abs(datum.value*100-round(datum.value*100))<1e-6", "value": 1}, "value": 0}, "tickSize": {"condition": {"test": "abs(datum.value*100-round(datum.value*100))<1e-6", "value": -6}, "value": -3}}}
    }},
   {"mark": {"type": "line", "interpolate": "step-after", "color": "#0E8A0E", "strokeWidth": 2.5, "clip": true},
    "encoding": {
     "x": {"field": "t", "type": "quantitative", "scale": {"domain": [17, 25], "nice": false, "zero": false}, "axis": {"orient": "top", "values": [17,17.33333,17.66667,18,18.33333,18.66667,19,19.33333,19.66667,20,20.33333,20.66667,21,21.33333,21.66667,22,22.33333,22.66667,23,23.33333,23.66667,24,24.33333,24.66667,25], "labels": false, "title": null, "grid": false, "tickSize": {"condition": {"test": "abs(datum.value-round(datum.value))<0.01", "value": -6}, "value": -3}}},
     "y": {"field": "v", "type": "quantitative", "scale": {"domain": [-0.5674, -0.533], "nice": false, "zero": false}, "axis": {"orient": "right", "title": null, "labels": false, "grid": false, "values": [-0.566,-0.564,-0.562,-0.56,-0.558,-0.556,-0.554,-0.552,-0.55,-0.548,-0.546,-0.544,-0.542,-0.54,-0.538,-0.536,-0.534], "tickSize": {"condition": {"test": "abs(datum.value*100-round(datum.value*100))<1e-6", "value": -6}, "value": -3}}}
    }}
  ],
  "resolve": {"axis": {"x": "independent", "y": "independent"}}
 },
 {"width": 459, "height": 77, "data": {"name": "p3"},
  "layer": [
   {"mark": {"type": "line", "interpolate": "step-after", "color": "#B5413F", "strokeWidth": 2.5, "clip": true},
    "encoding": {
     "x": {"field": "t", "type": "quantitative", "scale": {"domain": [17, 25], "nice": false, "zero": false}, "axis": {"orient": "bottom", "values": [17,17.33333,17.66667,18,18.33333,18.66667,19,19.33333,19.66667,20,20.33333,20.66667,21,21.33333,21.66667,22,22.33333,22.66667,23,23.33333,23.66667,24,24.33333,24.66667,25], "labels": false, "title": null, "grid": true, "gridOpacity": {"condition": {"test": "abs(datum.value-round(datum.value))<0.01", "value": 1}, "value": 0}, "tickSize": {"condition": {"test": "abs(datum.value-round(datum.value))<0.01", "value": -6}, "value": -3}}},
     "y": {"field": "v", "type": "quantitative", "scale": {"domain": [-1.15, 1.65], "nice": false, "zero": false}, "axis": {"orient": "left", "title": "Waist", "values": [-1.1,-1,-0.9,-0.8,-0.7,-0.6,-0.5,-0.4,-0.3,-0.2,-0.1,0,0.1,0.2,0.3,0.4,0.5,0.6,0.7,0.8,0.9,1,1.1,1.2,1.3,1.4,1.5,1.6], "labelExpr": "abs(datum.value*2-round(datum.value*2))<1e-6 ? (datum.value<0?'-':'')+replace(format(abs(datum.value),'~g'),'0.','.') : ''", "grid": true, "gridOpacity": {"condition": {"test": "abs(datum.value*2-round(datum.value*2))<1e-6", "value": 1}, "value": 0}, "tickSize": {"condition": {"test": "abs(datum.value*2-round(datum.value*2))<1e-6", "value": -6}, "value": -3}}}
    }},
   {"mark": {"type": "line", "interpolate": "step-after", "color": "#B5413F", "strokeWidth": 2.5, "clip": true},
    "encoding": {
     "x": {"field": "t", "type": "quantitative", "scale": {"domain": [17, 25], "nice": false, "zero": false}, "axis": {"orient": "top", "values": [17,17.33333,17.66667,18,18.33333,18.66667,19,19.33333,19.66667,20,20.33333,20.66667,21,21.33333,21.66667,22,22.33333,22.66667,23,23.33333,23.66667,24,24.33333,24.66667,25], "labels": false, "title": null, "grid": false, "tickSize": {"condition": {"test": "abs(datum.value-round(datum.value))<0.01", "value": -6}, "value": -3}}},
     "y": {"field": "v", "type": "quantitative", "scale": {"domain": [-1.15, 1.65], "nice": false, "zero": false}, "axis": {"orient": "right", "title": null, "labels": false, "grid": false, "values": [-1.1,-1,-0.9,-0.8,-0.7,-0.6,-0.5,-0.4,-0.3,-0.2,-0.1,0,0.1,0.2,0.3,0.4,0.5,0.6,0.7,0.8,0.9,1,1.1,1.2,1.3,1.4,1.5,1.6], "tickSize": {"condition": {"test": "abs(datum.value*2-round(datum.value*2))<1e-6", "value": -6}, "value": -3}}}
    }}
  ],
  "resolve": {"axis": {"x": "independent", "y": "independent"}}
 },
 {"width": 459, "height": 80, "data": {"name": "p4"},
  "layer": [
   {"mark": {"type": "line", "interpolate": "step-after", "color": "#FF3300", "strokeWidth": 2.5, "clip": true},
    "encoding": {
     "x": {"field": "t", "type": "quantitative", "scale": {"domain": [17, 25], "nice": false, "zero": false}, "axis": {"orient": "bottom", "values": [17,17.33333,17.66667,18,18.33333,18.66667,19,19.33333,19.66667,20,20.33333,20.66667,21,21.33333,21.66667,22,22.33333,22.66667,23,23.33333,23.66667,24,24.33333,24.66667,25], "labels": false, "title": null, "grid": true, "gridOpacity": {"condition": {"test": "abs(datum.value-round(datum.value))<0.01", "value": 1}, "value": 0}, "tickSize": {"condition": {"test": "abs(datum.value-round(datum.value))<0.01", "value": -6}, "value": -3}}},
     "y": {"field": "v", "type": "quantitative", "scale": {"domain": [-0.74, 1.65], "nice": false, "zero": false}, "axis": {"orient": "left", "title": "ηy", "values": [-0.7,-0.6,-0.5,-0.4,-0.3,-0.2,-0.1,0,0.1,0.2,0.3,0.4,0.5,0.6,0.7,0.8,0.9,1,1.1,1.2,1.3,1.4,1.5,1.6], "labelExpr": "abs(datum.value*2-round(datum.value*2))<1e-6 && datum.value<1.2 ? (datum.value<0?'-':'')+replace(format(abs(datum.value),'~g'),'0.','.') : ''", "grid": true, "gridOpacity": {"condition": {"test": "abs(datum.value*2-round(datum.value*2))<1e-6", "value": 1}, "value": 0}, "tickSize": {"condition": {"test": "abs(datum.value*2-round(datum.value*2))<1e-6", "value": -6}, "value": -3}}}
    }},
   {"mark": {"type": "line", "interpolate": "step-after", "color": "#FF3300", "strokeWidth": 2.5, "clip": true},
    "encoding": {
     "x": {"field": "t", "type": "quantitative", "scale": {"domain": [17, 25], "nice": false, "zero": false}, "axis": {"orient": "top", "values": [17,17.33333,17.66667,18,18.33333,18.66667,19,19.33333,19.66667,20,20.33333,20.66667,21,21.33333,21.66667,22,22.33333,22.66667,23,23.33333,23.66667,24,24.33333,24.66667,25], "labels": false, "title": null, "grid": false, "tickSize": {"condition": {"test": "abs(datum.value-round(datum.value))<0.01", "value": -6}, "value": -3}}},
     "y": {"field": "v", "type": "quantitative", "scale": {"domain": [-0.74, 1.65], "nice": false, "zero": false}, "axis": {"orient": "right", "title": null, "labels": false, "grid": false, "values": [-0.7,-0.6,-0.5,-0.4,-0.3,-0.2,-0.1,0,0.1,0.2,0.3,0.4,0.5,0.6,0.7,0.8,0.9,1,1.1,1.2,1.3,1.4,1.5,1.6], "tickSize": {"condition": {"test": "abs(datum.value*2-round(datum.value*2))<1e-6", "value": -6}, "value": -3}}}
    }}
  ],
  "resolve": {"axis": {"x": "independent", "y": "independent"}}
 },
 {"width": 459, "height": 78, "data": {"name": "p5"},
  "layer": [
   {"mark": {"type": "line", "interpolate": "step-after", "color": "#1F3DFF", "strokeWidth": 2.5, "clip": true},
    "encoding": {
     "x": {"field": "t", "type": "quantitative", "scale": {"domain": [17, 25], "nice": false, "zero": false}, "axis": {"orient": "bottom", "values": [17,17.33333,17.66667,18,18.33333,18.66667,19,19.33333,19.66667,20,20.33333,20.66667,21,21.33333,21.66667,22,22.33333,22.66667,23,23.33333,23.66667,24,24.33333,24.66667,25], "labels": false, "title": null, "grid": true, "gridOpacity": {"condition": {"test": "abs(datum.value-round(datum.value))<0.01", "value": 1}, "value": 0}, "tickSize": {"condition": {"test": "abs(datum.value-round(datum.value))<0.01", "value": -6}, "value": -3}}},
     "y": {"field": "v", "type": "quantitative", "scale": {"domain": [-0.7, 1.13], "nice": false, "zero": false}, "axis": {"orient": "left", "title": "ηy'", "values": [-0.7,-0.6,-0.5,-0.4,-0.3,-0.2,-0.1,0,0.1,0.2,0.3,0.4,0.5,0.6,0.7,0.8,0.9,1,1.1], "labelExpr": "abs(datum.value*2-round(datum.value*2))<1e-6 ? (datum.value<0?'-':'')+replace(format(abs(datum.value),'~g'),'0.','.') : ''", "grid": true, "gridOpacity": {"condition": {"test": "abs(datum.value*2-round(datum.value*2))<1e-6", "value": 1}, "value": 0}, "tickSize": {"condition": {"test": "abs(datum.value*2-round(datum.value*2))<1e-6", "value": -6}, "value": -3}}}
    }},
   {"mark": {"type": "line", "interpolate": "step-after", "color": "#1F3DFF", "strokeWidth": 2.5, "clip": true},
    "encoding": {
     "x": {"field": "t", "type": "quantitative", "scale": {"domain": [17, 25], "nice": false, "zero": false}, "axis": {"orient": "top", "values": [17,17.33333,17.66667,18,18.33333,18.66667,19,19.33333,19.66667,20,20.33333,20.66667,21,21.33333,21.66667,22,22.33333,22.66667,23,23.33333,23.66667,24,24.33333,24.66667,25], "labels": false, "title": null, "grid": false, "tickSize": {"condition": {"test": "abs(datum.value-round(datum.value))<0.01", "value": -6}, "value": -3}}},
     "y": {"field": "v", "type": "quantitative", "scale": {"domain": [-0.7, 1.13], "nice": false, "zero": false}, "axis": {"orient": "right", "title": null, "labels": false, "grid": false, "values": [-0.7,-0.6,-0.5,-0.4,-0.3,-0.2,-0.1,0,0.1,0.2,0.3,0.4,0.5,0.6,0.7,0.8,0.9,1,1.1], "tickSize": {"condition": {"test": "abs(datum.value*2-round(datum.value*2))<1e-6", "value": -6}, "value": -3}}}
    }}
  ],
  "resolve": {"axis": {"x": "independent", "y": "independent"}}
 },
 {"width": 459, "height": 77, "data": {"name": "p6"},
  "layer": [
   {"mark": {"type": "line", "interpolate": "step-after", "color": "#FFB566", "strokeWidth": 2.5, "clip": true},
    "encoding": {
     "x": {"field": "t", "type": "quantitative", "scale": {"domain": [17, 25], "nice": false, "zero": false}, "axis": {"orient": "bottom", "values": [17,17.33333,17.66667,18,18.33333,18.66667,19,19.33333,19.66667,20,20.33333,20.66667,21,21.33333,21.66667,22,22.33333,22.66667,23,23.33333,23.66667,24,24.33333,24.66667,25], "labels": false, "title": null, "grid": true, "gridOpacity": {"condition": {"test": "abs(datum.value-round(datum.value))<0.01", "value": 1}, "value": 0}, "tickSize": {"condition": {"test": "abs(datum.value-round(datum.value))<0.01", "value": -6}, "value": -3}}},
     "y": {"field": "v", "type": "quantitative", "scale": {"domain": [1.43, 8.43], "nice": false, "zero": false}, "axis": {"orient": "left", "title": "R1", "values": [1.5,2,2.5,3,3.5,4,4.5,5,5.5,6,6.5,7,7.5,8], "labelExpr": "abs(datum.value/2-round(datum.value/2))<1e-6 ? format(datum.value,'~g') : ''", "grid": true, "gridOpacity": {"condition": {"test": "abs(datum.value/2-round(datum.value/2))<1e-6", "value": 1}, "value": 0}, "tickSize": {"condition": {"test": "abs(datum.value/2-round(datum.value/2))<1e-6", "value": -6}, "value": -3}}}
    }},
   {"mark": {"type": "line", "interpolate": "step-after", "color": "#FFB566", "strokeWidth": 2.5, "clip": true},
    "encoding": {
     "x": {"field": "t", "type": "quantitative", "scale": {"domain": [17, 25], "nice": false, "zero": false}, "axis": {"orient": "top", "values": [17,17.33333,17.66667,18,18.33333,18.66667,19,19.33333,19.66667,20,20.33333,20.66667,21,21.33333,21.66667,22,22.33333,22.66667,23,23.33333,23.66667,24,24.33333,24.66667,25], "labels": false, "title": null, "grid": false, "tickSize": {"condition": {"test": "abs(datum.value-round(datum.value))<0.01", "value": -6}, "value": -3}}},
     "y": {"field": "v", "type": "quantitative", "scale": {"domain": [1.43, 8.43], "nice": false, "zero": false}, "axis": {"orient": "right", "title": null, "labels": false, "grid": false, "values": [1.5,2,2.5,3,3.5,4,4.5,5,5.5,6,6.5,7,7.5,8], "tickSize": {"condition": {"test": "abs(datum.value/2-round(datum.value/2))<1e-6", "value": -6}, "value": -3}}}
    }}
  ],
  "resolve": {"axis": {"x": "independent", "y": "independent"}}
 },
 {"width": 459, "height": 79, "data": {"name": "p7"},
  "layer": [
   {"mark": {"type": "line", "interpolate": "step-after", "color": "#A050E8", "strokeWidth": 2.5, "clip": true},
    "encoding": {
     "x": {"field": "t", "type": "quantitative", "scale": {"domain": [17, 25], "nice": false, "zero": false}, "axis": {"orient": "bottom", "values": [17,17.33333,17.66667,18,18.33333,18.66667,19,19.33333,19.66667,20,20.33333,20.66667,21,21.33333,21.66667,22,22.33333,22.66667,23,23.33333,23.66667,24,24.33333,24.66667,25], "labels": false, "title": null, "grid": true, "gridOpacity": {"condition": {"test": "abs(datum.value-round(datum.value))<0.01", "value": 1}, "value": 0}, "tickSize": {"condition": {"test": "abs(datum.value-round(datum.value))<0.01", "value": -6}, "value": -3}}},
     "y": {"field": "v", "type": "quantitative", "scale": {"domain": [-6.85, -2.4], "nice": false, "zero": false}, "axis": {"orient": "left", "title": "R2", "values": [-6.8,-6.6,-6.4,-6.2,-6,-5.8,-5.6,-5.4,-5.2,-5,-4.8,-4.6,-4.4,-4.2,-4,-3.8,-3.6,-3.4,-3.2,-3,-2.8,-2.6,-2.4], "labelExpr": "abs(datum.value-round(datum.value))<1e-6 ? (datum.value<0?'-':'')+format(abs(datum.value),'~g') : ''", "grid": true, "gridOpacity": {"condition": {"test": "abs(datum.value-round(datum.value))<1e-6", "value": 1}, "value": 0}, "tickSize": {"condition": {"test": "abs(datum.value-round(datum.value))<1e-6", "value": -6}, "value": -3}}}
    }},
   {"mark": {"type": "line", "interpolate": "step-after", "color": "#A050E8", "strokeWidth": 2.5, "clip": true},
    "encoding": {
     "x": {"field": "t", "type": "quantitative", "scale": {"domain": [17, 25], "nice": false, "zero": false}, "axis": {"orient": "top", "values": [17,17.33333,17.66667,18,18.33333,18.66667,19,19.33333,19.66667,20,20.33333,20.66667,21,21.33333,21.66667,22,22.33333,22.66667,23,23.33333,23.66667,24,24.33333,24.66667,25], "labels": false, "title": null, "grid": false, "tickSize": {"condition": {"test": "abs(datum.value-round(datum.value))<0.01", "value": -6}, "value": -3}}},
     "y": {"field": "v", "type": "quantitative", "scale": {"domain": [-6.85, -2.4], "nice": false, "zero": false}, "axis": {"orient": "right", "title": null, "labels": false, "grid": false, "values": [-6.8,-6.6,-6.4,-6.2,-6,-5.8,-5.6,-5.4,-5.2,-5,-4.8,-4.6,-4.4,-4.2,-4,-3.8,-3.6,-3.4,-3.2,-3,-2.8,-2.6,-2.4], "tickSize": {"condition": {"test": "abs(datum.value-round(datum.value))<1e-6", "value": -6}, "value": -3}}}
    }}
  ],
  "resolve": {"axis": {"x": "independent", "y": "independent"}}
 },
 {"width": 459, "height": 78, "data": {"name": "p8"},
  "layer": [
   {"mark": {"type": "line", "interpolate": "step-after", "color": "#26CAD8", "strokeWidth": 2.5, "clip": true},
    "encoding": {
     "x": {"field": "t", "type": "quantitative", "scale": {"domain": [17, 25], "nice": false, "zero": false}, "axis": {"orient": "bottom", "values": [17,17.33333,17.66667,18,18.33333,18.66667,19,19.33333,19.66667,20,20.33333,20.66667,21,21.33333,21.66667,22,22.33333,22.66667,23,23.33333,23.66667,24,24.33333,24.66667,25], "labels": false, "title": null, "grid": true, "gridOpacity": {"condition": {"test": "abs(datum.value-round(datum.value))<0.01", "value": 1}, "value": 0}, "tickSize": {"condition": {"test": "abs(datum.value-round(datum.value))<0.01", "value": -6}, "value": -3}}},
     "y": {"field": "v", "type": "quantitative", "scale": {"domain": [-2.18, 0.68], "nice": false, "zero": false}, "axis": {"orient": "left", "title": "R3", "values": [-2.1,-2,-1.9,-1.8,-1.7,-1.6,-1.5,-1.4,-1.3,-1.2,-1.1,-1,-0.9,-0.8,-0.7,-0.6,-0.5,-0.4,-0.3,-0.2,-0.1,0,0.1,0.2,0.3,0.4,0.5,0.6], "labelExpr": "abs(datum.value*2-round(datum.value*2))<1e-6 ? (datum.value<0?'-':'')+replace(format(abs(datum.value),'~g'),'0.','.') : ''", "grid": true, "gridOpacity": {"condition": {"test": "abs(datum.value*2-round(datum.value*2))<1e-6", "value": 1}, "value": 0}, "tickSize": {"condition": {"test": "abs(datum.value*2-round(datum.value*2))<1e-6", "value": -6}, "value": -3}}}
    }},
   {"mark": {"type": "line", "interpolate": "step-after", "color": "#26CAD8", "strokeWidth": 2.5, "clip": true},
    "encoding": {
     "x": {"field": "t", "type": "quantitative", "scale": {"domain": [17, 25], "nice": false, "zero": false}, "axis": {"orient": "top", "values": [17,17.33333,17.66667,18,18.33333,18.66667,19,19.33333,19.66667,20,20.33333,20.66667,21,21.33333,21.66667,22,22.33333,22.66667,23,23.33333,23.66667,24,24.33333,24.66667,25], "labels": false, "title": null, "grid": false, "tickSize": {"condition": {"test": "abs(datum.value-round(datum.value))<0.01", "value": -6}, "value": -3}}},
     "y": {"field": "v", "type": "quantitative", "scale": {"domain": [-2.18, 0.68], "nice": false, "zero": false}, "axis": {"orient": "right", "title": null, "labels": false, "grid": false, "values": [-2.1,-2,-1.9,-1.8,-1.7,-1.6,-1.5,-1.4,-1.3,-1.2,-1.1,-1,-0.9,-0.8,-0.7,-0.6,-0.5,-0.4,-0.3,-0.2,-0.1,0,0.1,0.2,0.3,0.4,0.5,0.6], "tickSize": {"condition": {"test": "abs(datum.value*2-round(datum.value*2))<1e-6", "value": -6}, "value": -3}}}
    }}
  ],
  "resolve": {"axis": {"x": "independent", "y": "independent"}}
 },
 {"width": 459, "height": 79, "data": {"name": "p9"},
  "layer": [
   {"mark": {"type": "line", "interpolate": "step-after", "color": "#22CC11", "strokeWidth": 2.5, "clip": true},
    "encoding": {
     "x": {"field": "t", "type": "quantitative", "scale": {"domain": [17, 25], "nice": false, "zero": false}, "axis": {"orient": "bottom", "values": [17,17.33333,17.66667,18,18.33333,18.66667,19,19.33333,19.66667,20,20.33333,20.66667,21,21.33333,21.66667,22,22.33333,22.66667,23,23.33333,23.66667,24,24.33333,24.66667,25], "labels": false, "title": null, "grid": true, "gridOpacity": {"condition": {"test": "abs(datum.value-round(datum.value))<0.01", "value": 1}, "value": 0}, "tickSize": {"condition": {"test": "abs(datum.value-round(datum.value))<0.01", "value": -6}, "value": -3}}},
     "y": {"field": "v", "type": "quantitative", "scale": {"domain": [-2.17, 0.79], "nice": false, "zero": false}, "axis": {"orient": "left", "title": "R4", "values": [-2.1,-2,-1.9,-1.8,-1.7,-1.6,-1.5,-1.4,-1.3,-1.2,-1.1,-1,-0.9,-0.8,-0.7,-0.6,-0.5,-0.4,-0.3,-0.2,-0.1,0,0.1,0.2,0.3,0.4,0.5,0.6,0.7], "labelExpr": "abs(datum.value*2-round(datum.value*2))<1e-6 ? (datum.value<0?'-':'')+replace(format(abs(datum.value),'~g'),'0.','.') : ''", "grid": true, "gridOpacity": {"condition": {"test": "abs(datum.value*2-round(datum.value*2))<1e-6", "value": 1}, "value": 0}, "tickSize": {"condition": {"test": "abs(datum.value*2-round(datum.value*2))<1e-6", "value": -6}, "value": -3}}}
    }},
   {"mark": {"type": "line", "interpolate": "step-after", "color": "#22CC11", "strokeWidth": 2.5, "clip": true},
    "encoding": {
     "x": {"field": "t", "type": "quantitative", "scale": {"domain": [17, 25], "nice": false, "zero": false}, "axis": {"orient": "top", "values": [17,17.33333,17.66667,18,18.33333,18.66667,19,19.33333,19.66667,20,20.33333,20.66667,21,21.33333,21.66667,22,22.33333,22.66667,23,23.33333,23.66667,24,24.33333,24.66667,25], "labels": false, "title": null, "grid": false, "tickSize": {"condition": {"test": "abs(datum.value-round(datum.value))<0.01", "value": -6}, "value": -3}}},
     "y": {"field": "v", "type": "quantitative", "scale": {"domain": [-2.17, 0.79], "nice": false, "zero": false}, "axis": {"orient": "right", "title": null, "labels": false, "grid": false, "values": [-2.1,-2,-1.9,-1.8,-1.7,-1.6,-1.5,-1.4,-1.3,-1.2,-1.1,-1,-0.9,-0.8,-0.7,-0.6,-0.5,-0.4,-0.3,-0.2,-0.1,0,0.1,0.2,0.3,0.4,0.5,0.6,0.7], "tickSize": {"condition": {"test": "abs(datum.value*2-round(datum.value*2))<1e-6", "value": -6}, "value": -3}}}
    }}
  ],
  "resolve": {"axis": {"x": "independent", "y": "independent"}}
 },
 {"width": 459, "height": 80,
  "layer": [
   {"data": {"name": "p10b"},
    "mark": {"type": "line", "color": "#22E8F0", "strokeWidth": 2.5, "clip": true},
    "encoding": {
     "x": {"field": "t", "type": "quantitative", "scale": {"domain": [17, 25], "nice": false, "zero": false}, "axis": {"orient": "top", "values": [17,17.33333,17.66667,18,18.33333,18.66667,19,19.33333,19.66667,20,20.33333,20.66667,21,21.33333,21.66667,22,22.33333,22.66667,23,23.33333,23.66667,24,24.33333,24.66667,25], "labels": false, "title": null, "grid": false, "tickSize": {"condition": {"test": "abs(datum.value-round(datum.value))<0.01", "value": -6}, "value": -3}}},
     "y": {"field": "v", "type": "quantitative", "scale": {"domain": [0, 545], "nice": false, "zero": false}, "axis": {"orient": "right", "title": "Life Time", "grid": false, "values": [20,40,60,80,100,120,140,160,180,200,220,240,260,280,300,320,340,360,380,400,420,440,460,480,500,520,540], "labelExpr": "datum.value%100==0 ? format(datum.value,'d') : ''", "tickSize": {"condition": {"test": "datum.value%100==0", "value": -6}, "value": -3}}}
    }},
   {"data": {"name": "p10a"},
    "mark": {"type": "line", "color": "#156E8C", "strokeWidth": 3, "clip": true},
    "encoding": {
     "x": {"field": "t", "type": "quantitative", "scale": {"domain": [17, 25], "nice": false, "zero": false}, "axis": {"orient": "bottom", "values": [17,17.33333,17.66667,18,18.33333,18.66667,19,19.33333,19.66667,20,20.33333,20.66667,21,21.33333,21.66667,22,22.33333,22.66667,23,23.33333,23.66667,24,24.33333,24.66667,25], "labels": false, "title": null, "grid": true, "gridOpacity": {"condition": {"test": "abs(datum.value-round(datum.value))<0.01", "value": 1}, "value": 0}, "tickSize": {"condition": {"test": "abs(datum.value-round(datum.value))<0.01", "value": -6}, "value": -3}}},
     "y": {"field": "v", "type": "quantitative", "scale": {"domain": [0, 900], "nice": false, "zero": false}, "axis": {"orient": "left", "title": "Current", "values": [50,100,150,200,250,300,350,400,450,500,550,600,650,700,750,800,850], "labelExpr": "datum.value%200==0 ? format(datum.value,'d') : ''", "grid": true, "gridOpacity": {"condition": {"test": "datum.value%200==0", "value": 1}, "value": 0}, "tickSize": {"condition": {"test": "datum.value%200==0", "value": -6}, "value": -3}}}
    }}
  ],
  "resolve": {"scale": {"y": "independent"}, "axis": {"x": "independent", "y": "independent"}}
 },
 {"width": 459, "height": 79,
  "layer": [
   {"data": {"name": "p11band"},
    "mark": {"type": "area", "interpolate": "step-after", "color": "#FF9EBE", "opacity": 0.9, "clip": true},
    "encoding": {
     "x": {"field": "t", "type": "quantitative", "scale": {"domain": [17, 25], "nice": false, "zero": false}, "axis": {"orient": "bottom", "values": [17,17.33333,17.66667,18,18.33333,18.66667,19,19.33333,19.66667,20,20.33333,20.66667,21,21.33333,21.66667,22,22.33333,22.66667,23,23.33333,23.66667,24,24.33333,24.66667,25], "labels": false, "title": null, "grid": true, "gridOpacity": {"condition": {"test": "abs(datum.value-round(datum.value))<0.01", "value": 1}, "value": 0}, "tickSize": {"condition": {"test": "abs(datum.value-round(datum.value))<0.01", "value": -6}, "value": -3}}},
     "y": {"field": "hi", "type": "quantitative", "scale": {"domain": [0, 31], "nice": false, "zero": false}, "axis": {"orient": "left", "title": "Dead Time", "values": [0,2,4,6,8,10,12,14,16,18,20,22,24,26,28,30], "labelExpr": "datum.value%10==0 ? format(datum.value,'d') : ''", "labelBaseline": {"condition": {"test": "datum.value==0", "value": "bottom"}, "value": "middle"}, "grid": true, "gridOpacity": {"condition": {"test": "datum.value%10==0 && datum.value>0", "value": 1}, "value": 0}, "tickSize": {"condition": {"test": "datum.value%10==0", "value": -6}, "value": -3}}},
     "y2": {"field": "lo"}
    }},
   {"data": {"name": "p11line"},
    "mark": {"type": "line", "interpolate": "step-after", "color": "#FF9EBE", "strokeWidth": 2.5, "clip": true},
    "encoding": {
     "x": {"field": "t", "type": "quantitative", "scale": {"domain": [17, 25], "nice": false, "zero": false}, "axis": null},
     "y": {"field": "v", "type": "quantitative", "scale": {"domain": [0, 31], "nice": false, "zero": false}, "axis": null}
    }},
   {"data": {"name": "p11b"},
    "mark": {"type": "line", "color": "#B99CFF", "strokeWidth": 2.5, "clip": true},
    "encoding": {
     "x": {"field": "t", "type": "quantitative", "scale": {"domain": [17, 25], "nice": false, "zero": false}, "axis": {"orient": "top", "values": [17,17.33333,17.66667,18,18.33333,18.66667,19,19.33333,19.66667,20,20.33333,20.66667,21,21.33333,21.66667,22,22.33333,22.66667,23,23.33333,23.66667,24,24.33333,24.66667,25], "labels": false, "title": null, "grid": false, "tickSize": {"condition": {"test": "abs(datum.value-round(datum.value))<0.01", "value": -6}, "value": -3}}},
     "y": {"field": "v", "type": "quantitative", "scale": {"domain": [1, 3.6], "nice": false, "zero": false}, "axis": {"orient": "right", "title": "σy", "grid": false, "values": [1,1.1,1.2,1.3,1.4,1.5,1.6,1.7,1.8,1.9,2,2.1,2.2,2.3,2.4,2.5,2.6,2.7,2.8,2.9,3,3.1,3.2,3.3,3.4,3.5], "labelExpr": "abs(datum.value*2-round(datum.value*2))<1e-6 ? format(datum.value,'~g') : ''", "tickSize": {"condition": {"test": "abs(datum.value*2-round(datum.value*2))<1e-6", "value": -6}, "value": -3}}}
    }}
  ],
  "resolve": {"scale": {"y": "independent"}, "axis": {"x": "independent", "y": "independent"}}
 },
 {"width": 459, "height": 91,
  "layer": [
   {"data": {"name": "p12b"},
    "mark": {"type": "line", "color": "#F0A800", "strokeWidth": 2.5, "clip": true},
    "encoding": {
     "x": {"field": "t", "type": "quantitative", "scale": {"domain": [17, 25], "nice": false, "zero": false}, "axis": {"orient": "top", "values": [17,17.33333,17.66667,18,18.33333,18.66667,19,19.33333,19.66667,20,20.33333,20.66667,21,21.33333,21.66667,22,22.33333,22.66667,23,23.33333,23.66667,24,24.33333,24.66667,25], "labels": false, "title": null, "grid": false, "tickSize": {"condition": {"test": "abs(datum.value-round(datum.value))<0.01", "value": -6}, "value": -3}}},
     "y": {"field": "v", "type": "quantitative", "scale": {"domain": [9.93, 13.51], "nice": false, "zero": false}, "axis": {"orient": "right", "title": "Csl Lum", "grid": false, "values": [10,10.2,10.4,10.6,10.8,11,11.2,11.4,11.6,11.8,12,12.2,12.4,12.6,12.8,13,13.2,13.4], "labelExpr": "abs(datum.value-round(datum.value))<1e-6 ? format(datum.value,'d') : ''", "labelBaseline": {"condition": {"test": "datum.value==10", "value": "bottom"}, "value": "middle"}, "tickSize": {"condition": {"test": "abs(datum.value-round(datum.value))<1e-6", "value": -6}, "value": -3}}}
    }},
   {"data": {"name": "p12a"},
    "mark": {"type": "line", "color": "#0D8A0D", "strokeWidth": 2.5, "clip": true},
    "encoding": {
     "x": {"field": "t", "type": "quantitative", "scale": {"domain": [17, 25], "nice": false, "zero": false}, "axis": {"orient": "bottom", "values": [17,17.33333,17.66667,18,18.33333,18.66667,19,19.33333,19.66667,20,20.33333,20.66667,21,21.33333,21.66667,22,22.33333,22.66667,23,23.33333,23.66667,24,24.33333,24.66667,25], "title": null, "grid": true, "gridOpacity": {"condition": {"test": "abs(datum.value-round(datum.value))<0.01", "value": 1}, "value": 0}, "tickSize": {"condition": {"test": "abs(datum.value-round(datum.value))<0.01", "value": -6}, "value": -3}, "labelFontSize": 18, "labelLineHeight": 19, "labelPadding": 8, "labelExpr": "datum.value==17 ? ['17ʰ0ᵐ0ˢ','11/30/2007'] : (datum.value==24 ? ['0ʰ0ᵐ','12/1'] : (abs(datum.value-round(datum.value))<0.01 ? (datum.value>24 ? format(datum.value-24,'d') : format(datum.value,'d'))+'ʰ' : ''))"}},
     "y": {"field": "v", "type": "quantitative", "scale": {"domain": [0.514, 0.919], "nice": false, "zero": false}, "axis": {"orient": "left", "title": "Green Ratio", "values": [0.52,0.54,0.56,0.58,0.6,0.62,0.64,0.66,0.68,0.7,0.72,0.74,0.76,0.78,0.8,0.82,0.84,0.86,0.88,0.9], "labelExpr": "abs(datum.value*10-round(datum.value*10))<1e-6 ? replace(format(datum.value,'~g'),'0.','.') : ''", "labelBaseline": {"condition": {"test": "datum.value>0.89", "value": "top"}, "value": "middle"}, "grid": true, "gridOpacity": {"condition": {"test": "abs(datum.value*10-round(datum.value*10))<1e-6", "value": 1}, "value": 0}, "tickSize": {"condition": {"test": "abs(datum.value*10-round(datum.value*10))<1e-6", "value": -6}, "value": -3}}}
    }}
  ],
  "resolve": {"scale": {"y": "independent"}, "axis": {"x": "independent", "y": "independent"}}
 }
]
}
